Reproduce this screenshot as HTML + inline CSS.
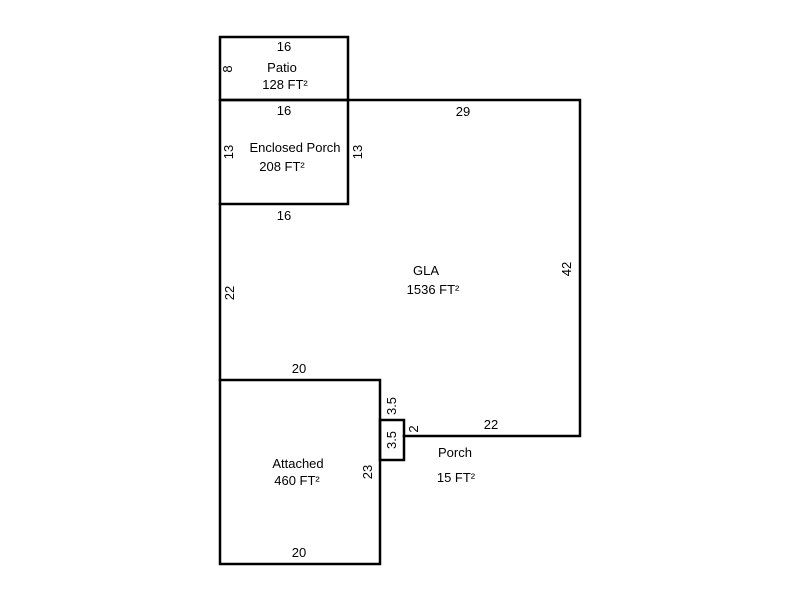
<!DOCTYPE html>
<html><head><meta charset="utf-8"><style>
html,body{margin:0;padding:0;background:#fff;}
svg{display:block;}
text{font-family:"Liberation Sans",Arial,sans-serif;font-size:13px;fill:#000;}
</style></head><body>
<svg width="800" height="600" viewBox="0 0 800 600" xmlns="http://www.w3.org/2000/svg">
<g fill="none" stroke="#000" stroke-width="2.5" stroke-linecap="square">
<rect x="220" y="37" width="128" height="63"/>
<rect x="220" y="100" width="128" height="104"/>
<polyline points="348,100 580,100 580,436 404,436"/>
<line x1="220" y1="204" x2="220" y2="380"/>
<rect x="380" y="420" width="24" height="40"/>
<rect x="220" y="380" width="160" height="184"/>
</g>
<g text-anchor="middle">
<text x="284" y="51">16</text>
<text x="282" y="72">Patio</text>
<text x="285" y="89">128 FT²</text>
<text x="284" y="115">16</text>
<text x="295" y="152">Enclosed Porch</text>
<text x="282" y="171">208 FT²</text>
<text x="284" y="220">16</text>
<text x="463" y="116">29</text>
<text x="426" y="275">GLA</text>
<text x="433" y="294">1536 FT²</text>
<text x="299" y="373">20</text>
<text x="491" y="429">22</text>
<text x="455" y="457">Porch</text>
<text x="456" y="482">15 FT²</text>
<text x="298" y="468">Attached</text>
<text x="297" y="485">460 FT²</text>
<text x="299" y="557">20</text>
<text transform="translate(232,69) rotate(-90)">8</text>
<text transform="translate(233,152) rotate(-90)">13</text>
<text transform="translate(362,152) rotate(-90)">13</text>
<text transform="translate(234,293) rotate(-90)">22</text>
<text transform="translate(571,269) rotate(-90)">42</text>
<text transform="translate(396,406) rotate(-90)">3.5</text>
<text transform="translate(396,440) rotate(-90)">3.5</text>
<text transform="translate(418,429) rotate(-90)">2</text>
<text transform="translate(372,472) rotate(-90)">23</text>
</g>
</svg>
</body></html>
